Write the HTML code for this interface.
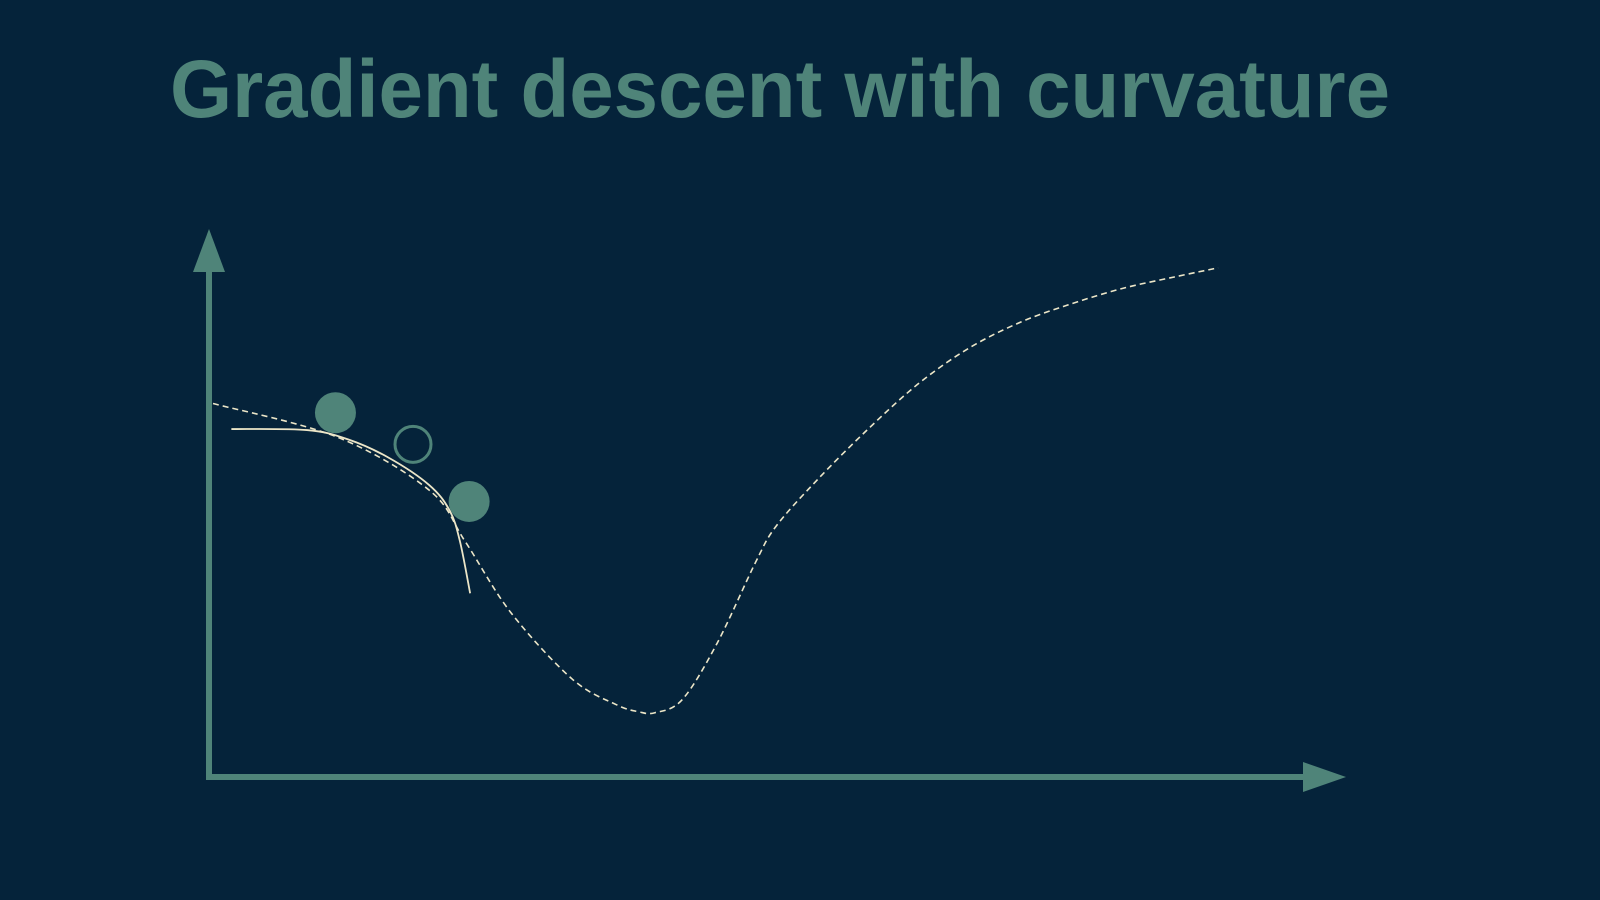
<!DOCTYPE html>
<html><head><meta charset="utf-8"><style>
html,body{margin:0;padding:0;background:#05233a;}
svg{display:block}
</style></head><body>
<svg id="chart" width="1600" height="900" viewBox="0 0 1600 900">
<rect width="1600" height="900" fill="#05233a"/>
<text x="170" y="117" font-family="Liberation Sans, sans-serif" font-weight="bold" font-size="82" fill="#4f8479" textLength="1220" lengthAdjust="spacingAndGlyphs">Gradient descent with curvature</text>
<g id="axes">
<line x1="209" y1="265" x2="209" y2="780" stroke="#4f8479" stroke-width="6"/>
<polygon points="209,229 193,272 225,272" fill="#4f8479"/>
<line x1="206" y1="777" x2="1308" y2="777" stroke="#4f8479" stroke-width="6"/>
<polygon points="1346,777 1303,762 1303,792" fill="#4f8479"/>
</g>
<g id="marks"></g>
</svg>
<script>
// loss curve data (x = parameter, y = loss), abstract units
const curveX = [0, 122, 212, 247, 292, 352, 395, 417, 433, 460, 494, 532, 552, 592, 642, 692, 742, 792, 842, 892, 942, 985];
const curveY = [366, 333, 281, 231, 161, 96, 71, 64, 63, 76, 131, 211, 246, 291, 341, 386, 421, 446, 464, 479, 490, 499];
// local quadratic approximation data
const approxX = [18, 92, 132, 172, 212, 232, 242, 252];
const approxY = [341, 340, 331, 313, 286, 261, 231, 180];
// iterate points
const pointX = [120, 251];
const pointY = [357, 270];
const candidateX = [196];
const candidateY = [326];

const sx = 1600/1568;
function xScale(v){ return 213 + v*sx; }
function yScale(v){ return 777 - v*sx; }
const ns = 'http://www.w3.org/2000/svg';
const g = document.getElementById('marks');

function smoothPath(xs, ys){
  const p = xs.map((x,i)=>[xScale(x), yScale(ys[i])]);
  let d = 'M'+p[0][0]+','+p[0][1];
  for(let i=0;i<p.length-1;i++){
    const p0=p[Math.max(0,i-1)], p1=p[i], p2=p[i+1], p3=p[Math.min(p.length-1,i+2)];
    const c1x=p1[0]+(p2[0]-p0[0])/6, c1y=p1[1]+(p2[1]-p0[1])/6;
    const c2x=p2[0]-(p3[0]-p1[0])/6, c2y=p2[1]-(p3[1]-p1[1])/6;
    d+=' C'+c1x+','+c1y+' '+c2x+','+c2y+' '+p2[0]+','+p2[1];
  }
  return d;
}
const loss = document.createElementNS(ns,'path');
loss.setAttribute('d', smoothPath(curveX, curveY));
loss.setAttribute('fill','none');
loss.setAttribute('stroke','#ece6c8');
loss.setAttribute('stroke-width','1.6');
loss.setAttribute('stroke-dasharray','6,4');


g.appendChild(loss);

const approx = document.createElementNS(ns,'path');
approx.setAttribute('d', smoothPath(approxX, approxY));
approx.setAttribute('fill','none');
approx.setAttribute('stroke','#ece6c8');
approx.setAttribute('stroke-width','1.8');


g.appendChild(approx);

pointX.forEach((x,i)=>{
  const c = document.createElementNS(ns,'circle');
  c.setAttribute('cx', xScale(x));
  c.setAttribute('cy', yScale(pointY[i]));
  c.setAttribute('r', 20.5);
  c.setAttribute('fill', '#4f8479');
  
  
  g.appendChild(c);
});
candidateX.forEach((x,i)=>{
  const c = document.createElementNS(ns,'circle');
  c.setAttribute('cx', xScale(x));
  c.setAttribute('cy', yScale(candidateY[i]));
  c.setAttribute('r', 18);
  c.setAttribute('fill', 'none');
  c.setAttribute('stroke', '#4f8479');
  c.setAttribute('stroke-width', '3');
  
  
  g.appendChild(c);
});
</script>
</body></html>
